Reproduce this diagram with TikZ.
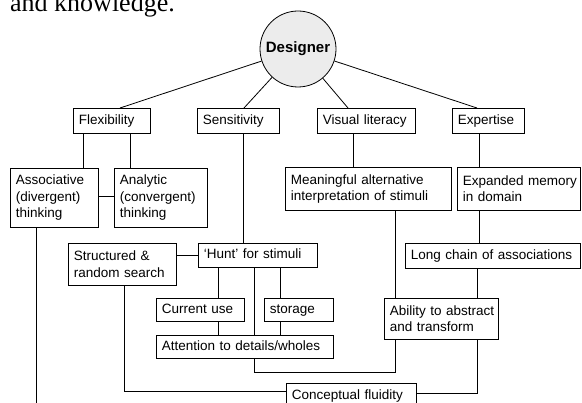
\documentclass[tikz,border=0pt]{standalone}
\usepackage{fontspec}
\setmainfont{Liberation Sans}
\newfontfamily\bodyserif{Liberation Serif}
\begin{document}
\begin{tikzpicture}[x=1pt,y=-1pt,
  box/.style={draw, line width=0.8pt, anchor=north west, align=left,
    inner xsep=5.5pt, inner ysep=0pt, font=\fontsize{13.5}{16.5}\selectfont,
    execute at begin node={\hyphenpenalty=10000\exhyphenpenalty=10000\hbadness=10000\hfuzz=20pt}},
  one/.style={text height=9.7pt, text depth=2.8pt},
  link/.style={line width=0.8pt}]
\clip (0,0) rectangle (582,403);
% body text fragment
\node[anchor=base west, inner sep=0pt, font=\bodyserif\fontsize{26}{30}\selectfont] (bodytext) at (10,12) {and knowledge.};
% centre
\node[circle, draw, line width=0.8pt, fill=gray!15, minimum size=76pt, inner sep=0pt,
  font=\bfseries\fontsize{15}{18}\selectfont] (designer) at (298,49) {Designer};
% row 1
\node[box, one, text width=66pt, minimum height=25pt] (flex) at (73,108) {Flexibility};
\node[box, one, text width=71pt, minimum height=25pt] (sens) at (197,108) {Sensitivity};
\node[box, one, text width=87pt, minimum height=25pt] (vis) at (317,108) {Visual literacy};
\node[box, one, text width=61pt, minimum height=25pt] (expe) at (452,108) {Expertise};
% row 2
\node[box, text width=77pt, minimum height=59pt] (assoc) at (10,168) {Associative\\(divergent)\\thinking};
\node[box, text width=82pt, minimum height=59pt] (analy) at (114,168) {Analytic\\(convergent)\\thinking};
\node[box, text width=155pt, minimum height=43pt] (mean) at (285,167) {\mbox{Meaningful alternative}\\\mbox{interpretation of stimuli}};
\node[box, text width=112pt, minimum height=43pt] (expand) at (457,167) {\mbox{Expanded memory}\\\mbox{in domain}};
% row 3
\node[box, text width=97pt, minimum height=42pt] (struct) at (68,243) {\mbox{Structured \&}\\\mbox{random search}};
\node[box, one, text width=108pt, minimum height=24pt] (hunt) at (198,243) {‘Hunt’ for stimuli};
\node[box, one, text width=164pt, minimum height=25pt] (long) at (405,243) {Long chain of associations};
% row 4
\node[box, one, text width=77pt, minimum height=23pt] (cur) at (156,298) {Current use};
\node[box, one, text width=58pt, minimum height=23pt] (stor) at (264,298) {storage};
\node[box, one, text width=166pt, minimum height=23pt] (att) at (156,335) {Attention to details/wholes};
\node[box, text width=103pt, minimum height=41pt] (abil) at (384,298) {\mbox{Ability to abstract}\\\mbox{and transform}};
% bottom
\node[box, one, text width=119pt, minimum height=25pt] (conc) at (286,383) {Conceptual fluidity};
\coordinate (assocend) at (36,410);
% connectors from the centre
\draw[link] (120,0 |- flex.north) -- (designer);
\draw[link] (244,0 |- sens.north) -- (designer);
\draw[link] (348,0 |- vis.north) -- (designer);
\draw[link] (477,0 |- expe.north) -- (designer);
% tree links
\draw[link] (83,0 |- flex.south) -- (83,0 |- assoc.north);
\draw[link] (130,0 |- flex.south) -- (130,0 |- analy.north);
\draw[link] (assoc.east |- 0,196) -- (analy.west |- 0,196);
\draw[link] (243,0 |- sens.south) -- (243,0 |- hunt.north);
\draw[link] (353,0 |- vis.south) -- (353,0 |- mean.north);
\draw[link] (479,0 |- expe.south) -- (479,0 |- expand.north);
\draw[link] (479,0 |- expand.south) -- (479,0 |- long.north);
\draw[link] (struct.east |- hunt.west) -- (hunt.west);
\draw[link] (218,0 |- hunt.south) -- (218,0 |- cur.north);
\draw[link] (280,0 |- hunt.south) -- (280,0 |- stor.north);
\draw[link] (254,0 |- hunt.south) -- (254,0 |- att.north);
\draw[link] (218,0 |- cur.south) -- (218,0 |- att.north);
\draw[link] (280,0 |- stor.south) -- (280,0 |- att.north);
\draw[link] (395,0 |- mean.south) -- (395,0 |- abil.north);
\draw[link] (477,0 |- long.south) -- (477,0 |- abil.north);
\draw[link] (254,0 |- att.south) -- (254,372) -- (395,372) -- (395,0 |- abil.south);
\draw[link] (477,0 |- abil.south) -- (477,393) -- (conc.east |- 0,393);
\draw[link] (124,0 |- struct.south) -- (124,391) -- (conc.west |- 0,391);
\draw[link] (36,0 |- assoc.south) -- (assocend);
\end{tikzpicture}
\end{document}
